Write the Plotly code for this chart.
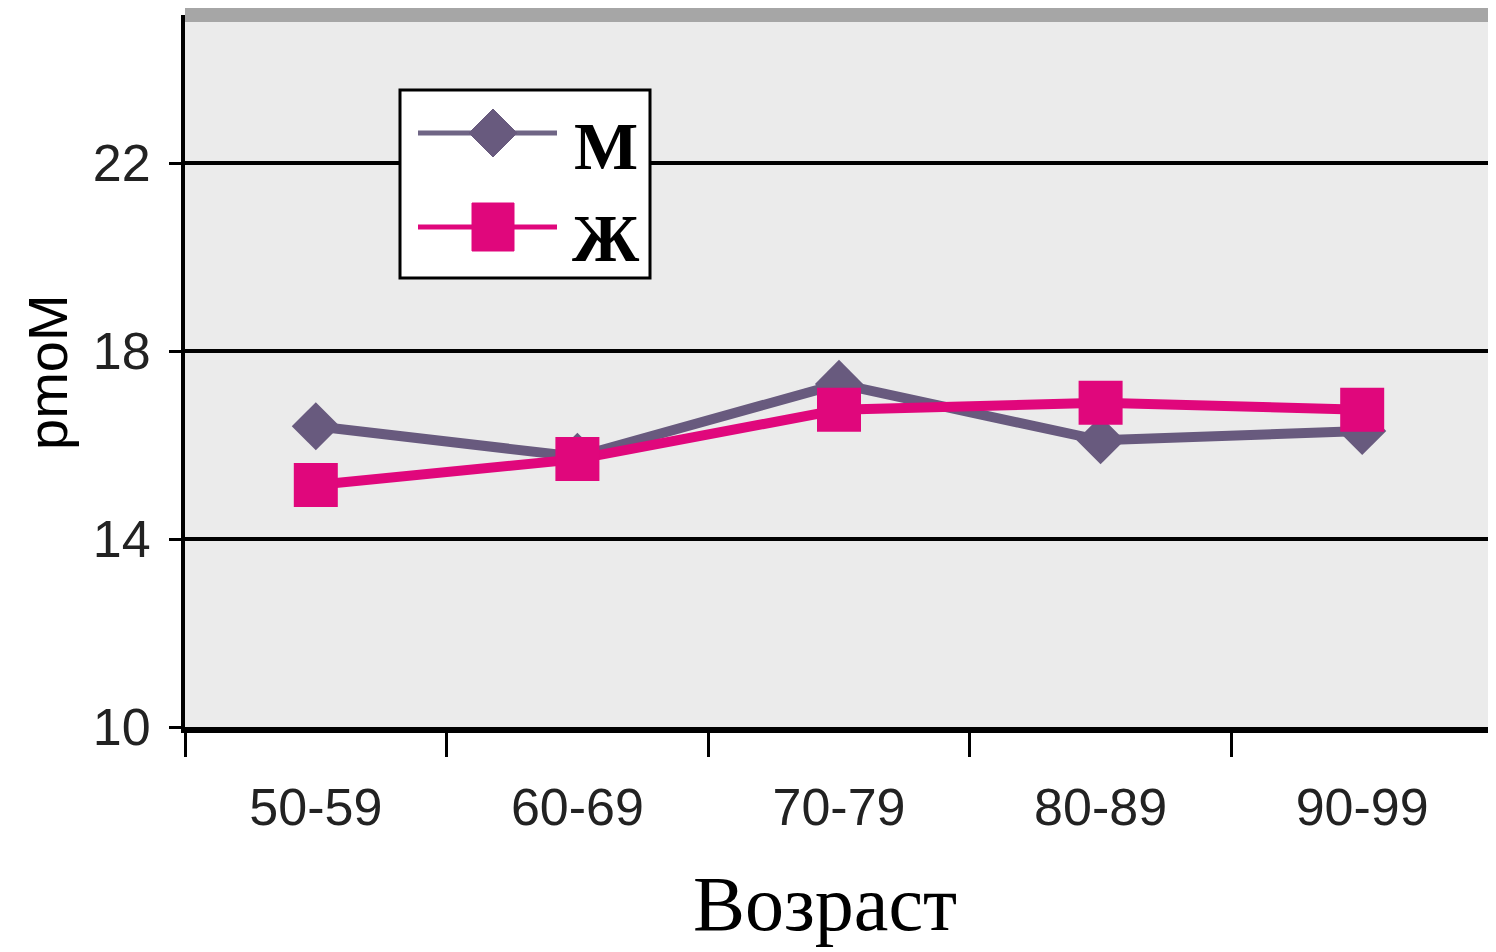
import plotly.graph_objects as go

categories = ["50-59", "60-69", "70-79", "80-89", "90-99"]
men = [16.4, 15.75, 17.3, 16.1, 16.3]
women = [15.15, 15.7, 16.75, 16.9, 16.75]
series_names = ["М", "Ж"]
y_ticks = [10, 14, 18, 22]

M_COLOR = "#685a7e"
F_COLOR = "#e0077c"

# page offset (browser body margin) and plot-area geometry in window pixels
OFF = 8
PL, PR, PT, PB = 185, 1493, 15, 727


def px(X):
    return (X - PL) / (PR - PL)


def py(Y):
    return (PB - Y) / (PB - PT)


fig = go.Figure()
fig.add_trace(go.Scatter(
    x=categories, y=men, name=series_names[0], mode="lines+markers",
    line=dict(color=M_COLOR, width=10),
    marker=dict(symbol="diamond", size=37, color=M_COLOR),
))
fig.add_trace(go.Scatter(
    x=categories, y=women, name=series_names[1], mode="lines+markers",
    line=dict(color=F_COLOR, width=10),
    marker=dict(symbol="square", size=44, color=F_COLOR),
))

sans = "Liberation Sans Narrow, Liberation Sans, Arial, sans-serif"
serif = "Liberation Serif, Times New Roman, serif"

shapes = [
    # top border of the plot area
    dict(type="line", xref="paper", yref="paper", x0=0, x1=1, y0=1, y1=1,
         line=dict(color="#a6a6a6", width=14), layer="above"),
    # legend box
    dict(type="rect", xref="paper", yref="paper", x0=px(400), x1=px(650), y0=py(278), y1=py(90),
         fillcolor="white", line=dict(color="black", width=3), layer="above"),
    # legend sample lines
    dict(type="line", xref="paper", yref="paper", x0=px(418), x1=px(557), y0=py(133), y1=py(133),
         line=dict(color="#6f6585", width=5), layer="above"),
    dict(type="line", xref="paper", yref="paper", x0=px(418), x1=px(557), y0=py(227), y1=py(227),
         line=dict(color=F_COLOR, width=5), layer="above"),
    # legend diamond
    dict(type="path", xref="paper", yref="paper", layer="above",
         path=f"M {px(493)},{py(109)} L {px(517)},{py(133)} L {px(493)},{py(157)} L {px(469)},{py(133)} Z",
         fillcolor=M_COLOR, line=dict(color=M_COLOR, width=1)),
    # legend square
    dict(type="rect", xref="paper", yref="paper", layer="above",
         x0=px(472), x1=px(514), y0=py(251), y1=py(203),
         fillcolor=F_COLOR, line=dict(color=F_COLOR, width=1)),
]

annotations = [
    dict(text=series_names[0], xref="paper", yref="paper", x=px(606), y=py(146),
         xanchor="center", yanchor="middle", showarrow=False,
         font=dict(family=serif, size=68, color="black", weight="bold")),
    dict(text=series_names[1], xref="paper", yref="paper", x=px(606), y=py(238),
         xanchor="center", yanchor="middle", showarrow=False,
         font=dict(family=serif, size=68, color="black", weight="bold")),
    dict(text="pmoM", textangle=-90, xref="paper", yref="paper",
         x=px(48), y=py(372), xanchor="center", yanchor="middle", showarrow=False,
         font=dict(family=sans, size=56, color="black")),
    dict(text="Возраст", xref="paper", yref="paper",
         x=px(825), y=py(903), xanchor="center", yanchor="middle", showarrow=False,
         font=dict(family=serif, size=78, color="black")),
]

fig.update_layout(
    width=1496, height=952,
    margin=dict(l=PL - OFF, r=1496 - (PR - OFF), t=PT - OFF, b=952 - (PB - OFF)),
    paper_bgcolor="white",
    plot_bgcolor="#ebebeb",
    showlegend=False,
    xaxis=dict(
        type="category", range=[-0.5, 4.5],
        showgrid=False, showline=True, linecolor="black", linewidth=6,
        ticks="outside", tickson="boundaries", ticklen=24, tickwidth=3, tickcolor="black",
        tickfont=dict(family=sans, size=52, color="#222"),
        ticklabelstandoff=30,
        zeroline=False,
    ),
    yaxis=dict(
        range=[10, 25.15], tickvals=y_ticks,
        showgrid=True, gridcolor="black", gridwidth=4,
        showline=True, linecolor="black", linewidth=4,
        ticks="outside", ticklen=12, tickwidth=3, tickcolor="black",
        tickfont=dict(family=sans, size=52, color="#222"),
        ticklabelstandoff=8,
        zeroline=False,
    ),
    shapes=shapes,
    annotations=annotations,
)

fig.write_html("out.html")
